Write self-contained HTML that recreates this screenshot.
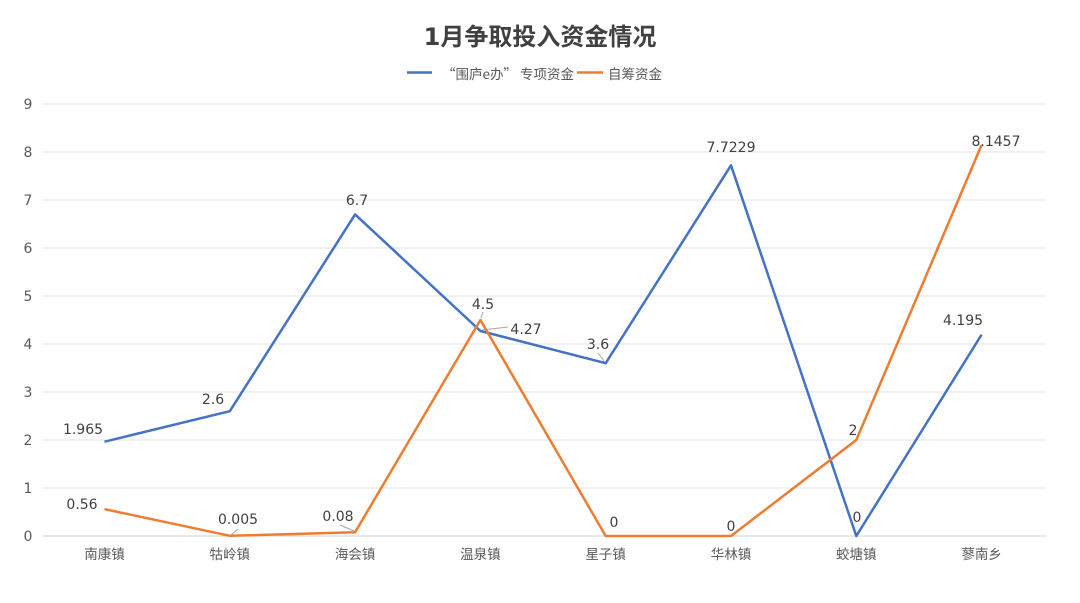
<!DOCTYPE html>
<html><head><meta charset="utf-8"><style>
html,body{margin:0;padding:0;background:#fff;}
svg{display:block;}
text{font-family:"DejaVu Sans","Noto Sans CJK SC",sans-serif;}
.cjk{font-family:"Noto Sans CJK SC","DejaVu Sans",sans-serif;}
</style></head><body>
<svg width="1080" height="603" viewBox="0 0 1080 603" xmlns="http://www.w3.org/2000/svg">
<rect width="1080" height="603" fill="#fff"/>
<text x="540" y="37" text-anchor="middle" dominant-baseline="central" font-size="24" font-weight="bold" fill="#404040">1月争取投入资金情况</text>
<!-- legend -->
<line x1="407" y1="72.5" x2="432" y2="72.5" stroke="#4472C4" stroke-width="2.5"/>
<text class="cjk" x="442" y="73" dominant-baseline="central" font-size="13.5" fill="#595959">“围庐e办” 专项资金</text>
<line x1="577" y1="72.5" x2="603" y2="72.5" stroke="#ED7D31" stroke-width="2.5"/>
<text class="cjk" x="608" y="73" dominant-baseline="central" font-size="13.5" fill="#595959">自筹资金</text>
<!-- gridlines -->
<g stroke="#E0E0E0" stroke-width="1">
<line x1="43" y1="104" x2="1046" y2="104"/>
<line x1="43" y1="152" x2="1046" y2="152"/>
<line x1="43" y1="200" x2="1046" y2="200"/>
<line x1="43" y1="248" x2="1046" y2="248"/>
<line x1="43" y1="296" x2="1046" y2="296"/>
<line x1="43" y1="344" x2="1046" y2="344"/>
<line x1="43" y1="392" x2="1046" y2="392"/>
<line x1="43" y1="440" x2="1046" y2="440"/>
<line x1="43" y1="488" x2="1046" y2="488"/>
</g>
<line x1="43" y1="536" x2="1046" y2="536" stroke="#D0D0D0" stroke-width="1"/>
<!-- y labels -->
<g font-size="14" fill="#595959" text-anchor="middle" transform="translate(0,1)">
<text x="28" y="104" dominant-baseline="central">9</text>
<text x="28" y="152" dominant-baseline="central">8</text>
<text x="28" y="200" dominant-baseline="central">7</text>
<text x="28" y="248" dominant-baseline="central">6</text>
<text x="28" y="296" dominant-baseline="central">5</text>
<text x="28" y="344" dominant-baseline="central">4</text>
<text x="28" y="392" dominant-baseline="central">3</text>
<text x="28" y="440" dominant-baseline="central">2</text>
<text x="28" y="488" dominant-baseline="central">1</text>
<text x="28" y="536" dominant-baseline="central">0</text>
</g>
<!-- x labels -->
<g class="cjk" font-size="13.5" fill="#595959" text-anchor="middle">
<text class="cjk" x="104.5" y="553" dominant-baseline="central">南康镇</text>
<text class="cjk" x="229.8" y="553" dominant-baseline="central">牯岭镇</text>
<text class="cjk" x="355.1" y="553" dominant-baseline="central">海会镇</text>
<text class="cjk" x="480.4" y="553" dominant-baseline="central">温泉镇</text>
<text class="cjk" x="605.7" y="553" dominant-baseline="central">星子镇</text>
<text class="cjk" x="731" y="553" dominant-baseline="central">华林镇</text>
<text class="cjk" x="856.3" y="553" dominant-baseline="central">蛟塘镇</text>
<text class="cjk" x="981.6" y="553" dominant-baseline="central">蓼南乡</text>
</g>
<!-- leader lines -->
<g stroke="#A6A6A6" stroke-width="1" fill="none">
<line x1="231" y1="535" x2="238" y2="529"/>
<line x1="340" y1="525" x2="354" y2="531"/>
<line x1="483" y1="312" x2="481" y2="318"/>
<line x1="482" y1="330" x2="508" y2="327"/>
<line x1="598" y1="353" x2="604" y2="361"/>
</g>
<!-- series -->
<polyline fill="none" stroke="#4472C4" stroke-width="2.5" stroke-linejoin="round" points="104.5,441.7 229.8,411.2 355.1,214.4 480.4,331 605.7,363.2 731,165.3 856.3,536 981.6,334.6"/>
<polyline fill="none" stroke="#ED7D31" stroke-width="2.5" stroke-linejoin="round" points="104.5,509.1 229.8,535.8 355.1,532.2 480.4,320 605.7,536 731,536 856.3,440 981.6,145"/>
<!-- data labels -->
<g font-size="14" fill="#404040" text-anchor="middle" transform="translate(0,1)">
<text x="83" y="429" dominant-baseline="central">1.965</text>
<text x="213" y="399" dominant-baseline="central">2.6</text>
<text x="357" y="200" dominant-baseline="central">6.7</text>
<text x="526" y="329" dominant-baseline="central">4.27</text>
<text x="598" y="344" dominant-baseline="central">3.6</text>
<text x="731" y="147" dominant-baseline="central">7.7229</text>
<text x="857" y="517" dominant-baseline="central">0</text>
<text x="963" y="320" dominant-baseline="central">4.195</text>
<text x="82" y="504" dominant-baseline="central">0.56</text>
<text x="238" y="519" dominant-baseline="central">0.005</text>
<text x="338" y="516" dominant-baseline="central">0.08</text>
<text x="483" y="304" dominant-baseline="central">4.5</text>
<text x="614" y="522" dominant-baseline="central">0</text>
<text x="731" y="526" dominant-baseline="central">0</text>
<text x="853" y="430" dominant-baseline="central">2</text>
<text x="996" y="141" dominant-baseline="central">8.1457</text>
</g>
</svg>
</body></html>
